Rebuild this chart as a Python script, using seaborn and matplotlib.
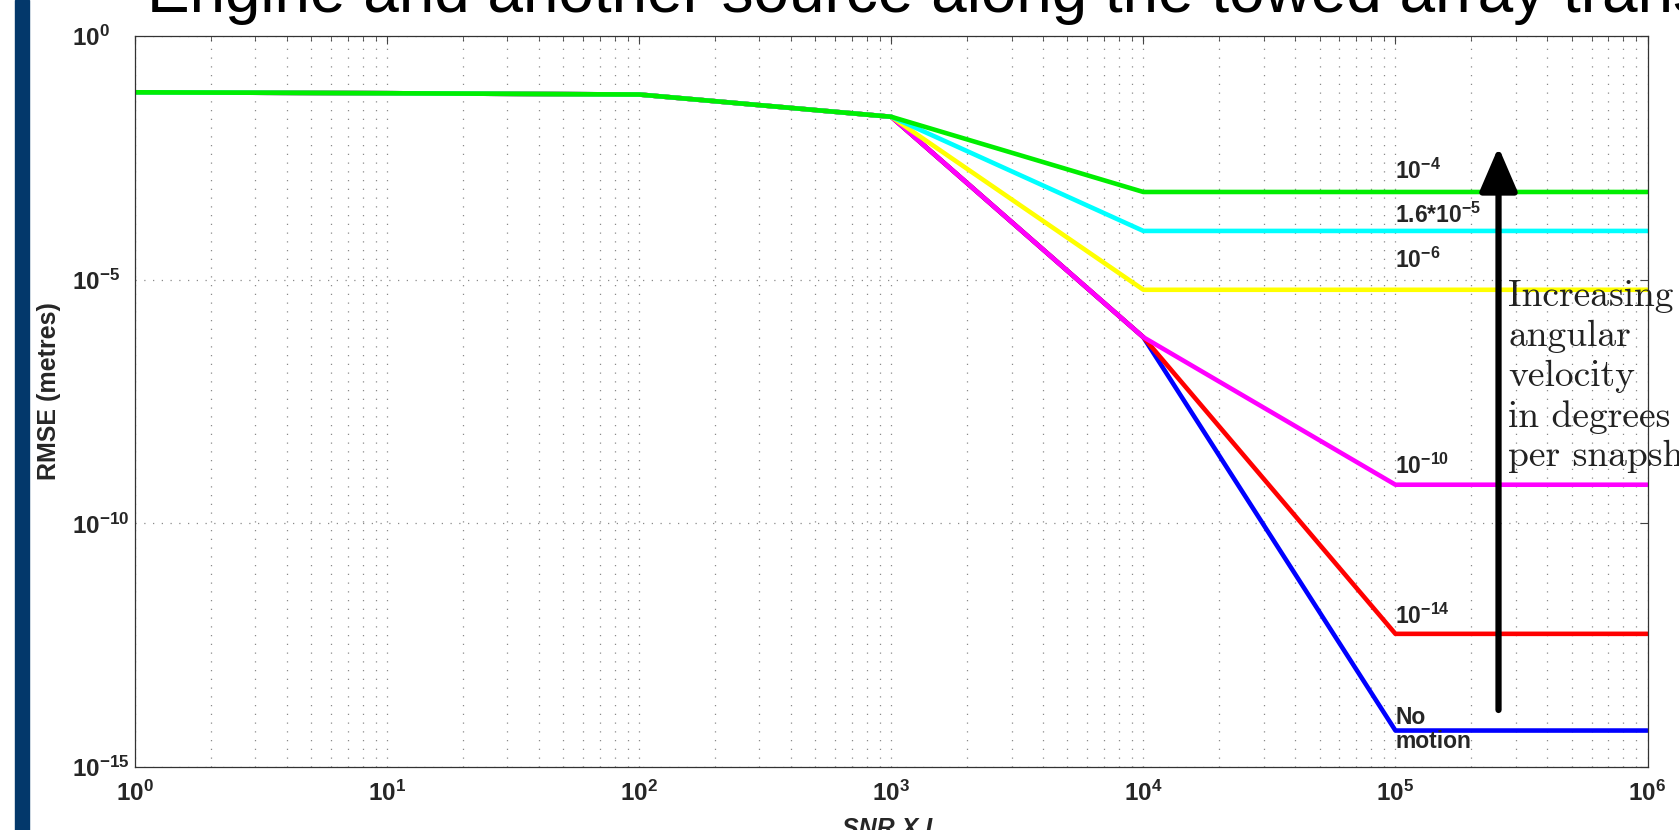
import numpy as np
import pandas as pd
import matplotlib
matplotlib.use("Agg")
import matplotlib.pyplot as plt
import seaborn as sns
from matplotlib.patches import Rectangle
from matplotlib.ticker import LogLocator, NullLocator, NullFormatter

# ---------------- data ----------------
snr = [1, 10, 100, 1e3, 1e4, 1e5, 1e6]
series_names = ["No motion", "1e-14", "1e-10", "1e-6", "1.6e-5", "1e-4"]
rmse_no_motion = [0.070, 0.067, 0.063, 0.022, 6.6e-7, 5.6e-15, 5.6e-15]
rmse_1e14 = [0.070, 0.067, 0.063, 0.022, 6.6e-7, 5.4e-13, 5.4e-13]
rmse_1e10 = [0.070, 0.067, 0.063, 0.022, 6.6e-7, 6.2e-10, 6.2e-10]
rmse_1e6 = [0.070, 0.067, 0.063, 0.022, 6.2e-6, 6.2e-6, 6.2e-6]
rmse_16e5 = [0.070, 0.067, 0.063, 0.022, 1.0e-4, 1.0e-4, 1.0e-4]
rmse_1e4 = [0.070, 0.067, 0.063, 0.022, 6.3e-4, 6.3e-4, 6.3e-4]
series_values = [rmse_no_motion, rmse_1e14, rmse_1e10, rmse_1e6, rmse_16e5, rmse_1e4]
colors = ["#0000ff", "#ff0000", "#ff00ff", "#ffff00", "#00ffff", "#00ee00"]

xtick_vals = [1, 10, 100, 1e3, 1e4, 1e5, 1e6]
xtick_labels = [r"$10^{0}$", r"$10^{1}$", r"$10^{2}$", r"$10^{3}$", r"$10^{4}$", r"$10^{5}$", r"$10^{6}$"]
ytick_vals = [1e-15, 1e-10, 1e-5, 1]
ytick_labels = [r"$10^{-15}$", r"$10^{-10}$", r"$10^{-5}$", r"$10^{0}$"]

curve_labels = [r"$10^{-4}$", r"1.6*$10^{-5}$", r"$10^{-6}$", r"$10^{-10}$", r"$10^{-14}$"]
curve_label_exp = [-2.94, -3.84, -4.75, -8.98, -12.06]

# ---------------- style ----------------
sns.set_style("white")
plt.rcParams.update({
    "font.family": ["Liberation Sans", "DejaVu Sans"],
    "mathtext.fontset": "custom",
    "mathtext.rm": "Liberation Sans:bold",
    "mathtext.it": "Liberation Sans:italic:bold",
    "mathtext.bf": "Liberation Sans:bold",
    "mathtext.default": "rm",
})

W, H = 1679, 830
fig = plt.figure(figsize=(W / 100, H / 100), dpi=100)
fig.patch.set_facecolor("white")
ax = fig.add_axes([135 / W, (H - 767) / H, (1647.5 - 135) / W, (767 - 36) / H])

records = []
for name, vals in zip(series_names, series_values):
    for x, y in zip(snr, vals):
        records.append({"snr": x, "rmse": y, "motion": name})
df = pd.DataFrame(records)

sns.lineplot(data=df, x="snr", y="rmse", hue="motion", hue_order=series_names,
             palette=dict(zip(series_names, colors)), linewidth=3.3,
             legend=False, estimator=None, sort=False, ax=ax)

ax.set_xscale("log")
ax.set_yscale("log")
ax.set_xlim(1, 1e6)
ax.set_ylim(1e-15, 1)

ax.set_xticks(xtick_vals, xtick_labels)
ax.xaxis.set_minor_locator(LogLocator(base=10, subs=np.arange(2, 10), numticks=100))
ax.xaxis.set_minor_formatter(NullFormatter())
ax.set_yticks(ytick_vals, ytick_labels)
ax.yaxis.set_minor_locator(NullLocator())

ax.tick_params(which="both", direction="in", top=True, right=True, color="#444444")
ax.tick_params(which="major", length=6, width=0.8, labelsize=17.5)
ax.tick_params(which="minor", length=3.5, width=0.6)
ax.tick_params(axis="x", which="major", pad=10)
ax.tick_params(axis="y", which="major", pad=45.5)
for lab in ax.get_yticklabels():
    lab.set_horizontalalignment("left")

grid_kw = dict(color="#8a8a8a", linewidth=0.9, linestyle=(0, (1, 6)))
ax.grid(True, which="major", axis="both", **grid_kw)
ax.grid(True, which="minor", axis="x", **grid_kw)
ax.set_axisbelow(True)
for sp in ax.spines.values():
    sp.set_color("#333333")
    sp.set_linewidth(0.9)

ax.set_xlabel("SNR X L", fontsize=18, fontweight="bold", fontstyle="italic")
ax.xaxis.set_label_coords(0.5, -0.069)
ax.set_ylabel("RMSE (metres)", fontsize=18, fontweight="bold", va="center")
ax.yaxis.set_label_coords(-0.057, 0.514)

# curve labels
for txt, e in zip(curve_labels, curve_label_exp):
    ax.text(1e5, 10 ** e, txt, fontsize=16.5, fontweight="bold", ha="left", va="baseline")
ax.text(1e5, 10 ** -14.115, "No", fontsize=16.5, fontweight="bold", ha="left", va="baseline")
ax.text(1e5, 10 ** -14.61, "motion", fontsize=16.5, fontweight="bold", ha="left", va="baseline")

# arrow
ax.annotate("", xy=(10 ** 5.409, 10 ** -2.28), xytext=(10 ** 5.409, 10 ** -13.83),
            arrowprops=dict(arrowstyle="-|>,head_length=1.35,head_width=0.58",
                            lw=4.5, color="black", mutation_scale=20,
                            shrinkA=0, shrinkB=0))
# multi-line text: va='baseline' anchors the last line's baseline
ax.text(10 ** 5.448, 10 ** -8.83,
        "Increasing\nangular\nvelocity\nin degrees\nper snapshot",
        fontsize=27, family="cmr10", color="#222222", ha="left", va="baseline",
        linespacing=1.25)

# slide decorations
fig.add_artist(Rectangle((15 / W, 0), 14 / W, 1, transform=fig.transFigure,
                         color="#03386b", zorder=5))
fig.text(147 / W, 1 - 12 / H, "Engine and another source along the towed array transect",
         fontsize=46, ha="left", va="baseline", color="black")

fig.savefig("out.png", dpi=100)
